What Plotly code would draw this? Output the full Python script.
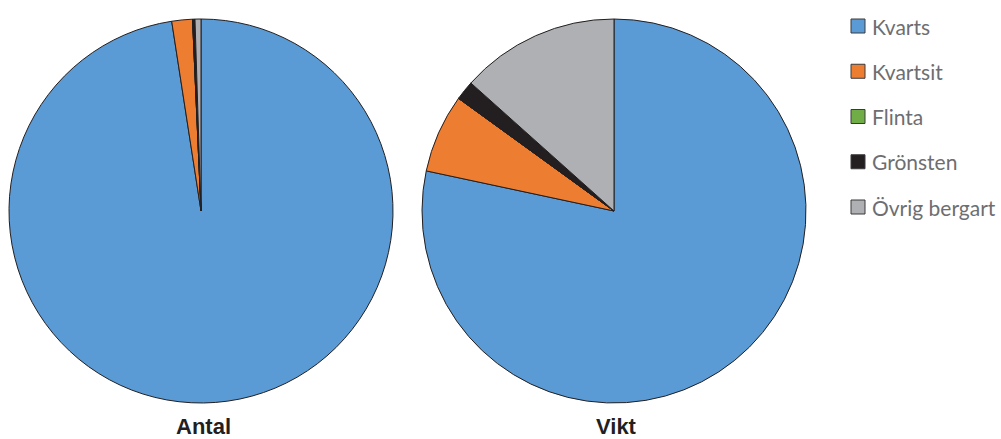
import plotly.graph_objects as go

W, H = 1001, 439

# Stone material categories and their shares (%)
categories = ["Kvarts", "Kvartsit", "Flinta", "Grönsten", "Övrig bergart"]
colors = ["#5B9BD5", "#ED7D31", "#70AD47", "#231F20", "#AFB0B3"]
antal = [97.56, 1.74, 0.0, 0.2, 0.5]
vikt = [78.35, 6.63, 0.0, 1.63, 13.39]
pie_titles = ["Antal", "Vikt"]

fig = go.Figure()

# pie placement in pixels: (center x, center y from top, radius)
pies = [(201, 211, 192), (614, 211, 192)]

for vals, title, (cx, cy, r) in zip([antal, vikt], pie_titles, pies):
    fig.add_trace(go.Pie(
        labels=categories,
        values=vals,
        sort=False,
        direction="clockwise",
        rotation=0,
        textinfo="none",
        hoverinfo="label+percent",
        marker=dict(colors=colors, line=dict(color="#231F20", width=1)),
        domain=dict(x=[(cx - r) / W, (cx + r) / W],
                    y=[(H - cy - r) / H, (H - cy + r) / H]),
        showlegend=False,
    ))
    fig.add_annotation(
        text="<b>" + title + "</b>",
        x=(cx + 2) / W, y=(H - 426) / H,
        xref="paper", yref="paper",
        xanchor="center", yanchor="middle",
        showarrow=False,
        font=dict(family="Liberation Sans, Arial", size=22, color="#231F20"),
    )

# legend: colored squares with category names
lx0, ly0, step, sq = 851, 26, 45.25, 14
for i, (name, col) in enumerate(zip(categories, colors)):
    yc = ly0 + i * step
    fig.add_shape(
        type="rect", xref="paper", yref="paper",
        x0=lx0 / W, x1=(lx0 + sq) / W,
        y0=(H - yc - sq / 2) / H, y1=(H - yc + sq / 2) / H,
        fillcolor=col, line=dict(color="#3A3A3C", width=1),
    )
    fig.add_annotation(
        text=name, xref="paper", yref="paper",
        x=(lx0 + sq + 5) / W, y=(H - yc) / H,
        xanchor="left", yanchor="middle", showarrow=False,
        font=dict(family="Lato", size=21, color="#6D6E71"),
    )

fig.update_layout(
    width=W, height=H,
    margin=dict(l=0, r=0, t=0, b=0),
    paper_bgcolor="white",
    plot_bgcolor="white",
)

fig.write_html("out.html")
